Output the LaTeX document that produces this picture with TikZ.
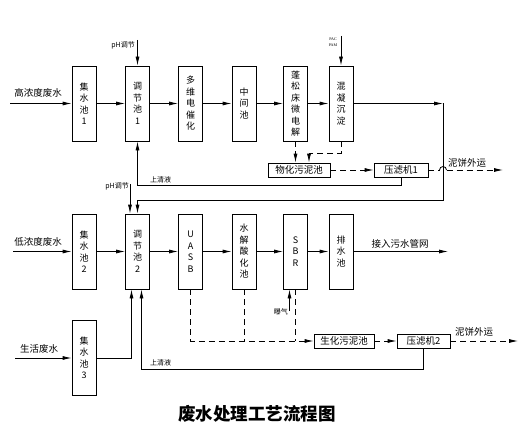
\documentclass[tikz,border=0pt]{standalone}
\usepackage{fontspec}
\setmainfont{Liberation Serif}
\newfontfamily\cjk{Noto Sans CJK SC}
\usetikzlibrary{arrows.meta}
\tikzset{
  pool/.style={draw, line width=0.8pt, minimum width=24pt, minimum height=75pt, inner sep=0pt, align=center, font=\cjk\fontsize{9}{11.5}\selectfont},
  tank/.style={draw, line width=0.8pt, minimum height=14pt, inner sep=0pt, font=\cjk\fontsize{9.5}{11}\selectfont},
  flow/.style={line width=0.8pt, -{Latex[length=9pt,width=4pt]}},
  sludge/.style={dash pattern=on 6pt off 4pt},
  lbl/.style={inner sep=0pt, font=\cjk\fontsize{9.5}{9.5}\selectfont},
  note/.style={inner sep=0pt, font=\cjk\fontsize{7}{7}\selectfont}
}
\begin{document}
\begin{tikzpicture}[x=1pt,y=-1pt]
  \useasboundingbox (0,0) rectangle (527,441);
  \node[pool] (jishui1) at (84,103.5) {集\\水\\池\\1};
  \node[pool] (tiaojie1) at (137.5,103.5) {调\\节\\池\\1};
  \node[pool] (cuihua) at (190.5,103.5) {多\\维\\电\\催\\化};
  \node[pool] (zhongjian) at (244,103.5) {中\\间\\池};
  \node[pool] (weidianjie) at (295.5,103.5) {蓬\\松\\床\\微\\电\\解};
  \node[pool] (hunning) at (341,103.5) {混\\凝\\沉\\淀};
  \node[tank, minimum width=62pt] (wuhuani) at (299,170) {物化污泥池};
  \node[tank, minimum width=54pt] (yalvji1) at (401,170) {压滤机1};
  \node[pool] (jishui2) at (84,251.5) {集\\水\\池\\2};
  \node[pool] (tiaojie2) at (137.5,251.5) {调\\节\\池\\2};
  \node[pool] (uasb) at (190.5,251.5) {U\\A\\S\\B};
  \node[pool] (shuijie) at (244,251.5) {水\\解\\酸\\化\\池};
  \node[pool] (sbr) at (295.5,251.5) {S\\B\\R};
  \node[pool] (paishui) at (341,251.5) {排\\水\\池};
  \node[pool] (jishui3) at (84,358) {集\\水\\池\\3};
  \node[tank, minimum width=60pt] (shenghuani) at (344,341) {生化污泥池};
  \node[tank, minimum width=53pt] (yalvji2) at (423.5,341) {压滤机2};
  \coordinate (in1) at (10,103.5);
  \coordinate (out1) at (443,103.5);
  \coordinate (ret1) at (443,200);
  \coordinate (hop1) at (439.5,170);
  \coordinate (cake1) at (503,170);
  \coordinate (ph1) at (137.5,40);
  \coordinate (pac) at (341,36);
  \coordinate (in2) at (13,251.5);
  \coordinate (out2) at (448,251.5);
  \coordinate (ph2) at (130,184);
  \coordinate (in3) at (15,358);
  \coordinate (air) at (289.5,311);
  \coordinate (cake2) at (518,341);
  \draw[flow] (in1) -- (jishui1);
  \draw[flow] (in2) -- (jishui2);
  \draw[flow] (in3) -- (jishui3);
  \foreach \a/\b in {jishui1/tiaojie1,tiaojie1/cuihua,cuihua/zhongjian,zhongjian/weidianjie,weidianjie/hunning,
    jishui2/tiaojie2,tiaojie2/uasb,uasb/shuijie,shuijie/sbr,sbr/paishui}
    \draw[flow] (\a) -- (\b);
  \draw[flow] (hunning) -- (out1);
  \draw[flow] (out1) -- (ret1) -| (tiaojie2.north);
  \draw[flow] (ph1) -- (tiaojie1.north);
  \draw[flow] (pac) -- (hunning.north);
  \draw[flow] (yalvji1.south) -- ++(0,8) -| (tiaojie1.south);
  \draw[flow, sludge] (weidianjie.south) -- (weidianjie.south |- wuhuani.north);
  \draw[flow, sludge] (hunning.south) -- ++(0,12) -| ([xshift=10pt]wuhuani.north);
  \draw[flow, sludge] (wuhuani) -- (yalvji1);
  \draw[line width=0.8pt, sludge] (yalvji1.east) -- (hop1);
  \draw[line width=0.8pt] (hop1) arc[start angle=180, end angle=0, radius=3.5pt];
  \draw[flow, sludge] ([xshift=7pt]hop1) -- (cake1);
  \draw[flow] (paishui) -- (out2);
  \draw[flow] (ph2) -- (ph2 |- tiaojie2.north);
  \draw[flow] (jishui3) -| ([xshift=-6pt]tiaojie2.south);
  \draw[flow] (yalvji2.south) -- ++(0,21) -| ([xshift=4pt]tiaojie2.south);
  \draw[flow] (air) -- (air |- sbr.south);
  \draw[flow, sludge] (uasb.south) |- (shenghuani.west);
  \draw[line width=0.8pt, sludge] (shuijie.south) -- (shuijie.south |- shenghuani.west);
  \draw[line width=0.8pt, sludge] (sbr.south) -- (sbr.south |- shenghuani.west);
  \draw[flow, sludge] (shenghuani) -- (yalvji2);
  \draw[flow, sludge] (yalvji2) -- (cake2);
  \node[lbl] at (38,93) {高浓度废水};
  \node[lbl] at (38,242) {低浓度废水};
  \node[lbl] at (39,349) {生活废水};
  \node[lbl] at (400,244) {接入污水管网};
  \node[lbl, anchor=west] at (448,163) {泥饼外运};
  \node[lbl, anchor=west] at (455,332) {泥饼外运};
  \node[note, anchor=east] at (135,45) {pH调节};
  \node[note, anchor=east] at (129,186) {pH调节};
  \node[note, anchor=south west] at (150,183) {上清液};
  \node[note, anchor=south west] at (150,366) {上清液};
  \node[note, anchor=east] at (288,312) {曝气};
  \node[inner sep=0pt, font=\fontsize{4}{4}\selectfont] at (333,39) {PAC};
  \node[inner sep=0pt, font=\fontsize{4}{4}\selectfont] at (333,45) {PAM};
  \node[font=\cjk\bfseries\fontsize{17.5}{17.5}\selectfont] (title) at (257,414) {废水处理工艺流程图};
\end{tikzpicture}
\end{document}
